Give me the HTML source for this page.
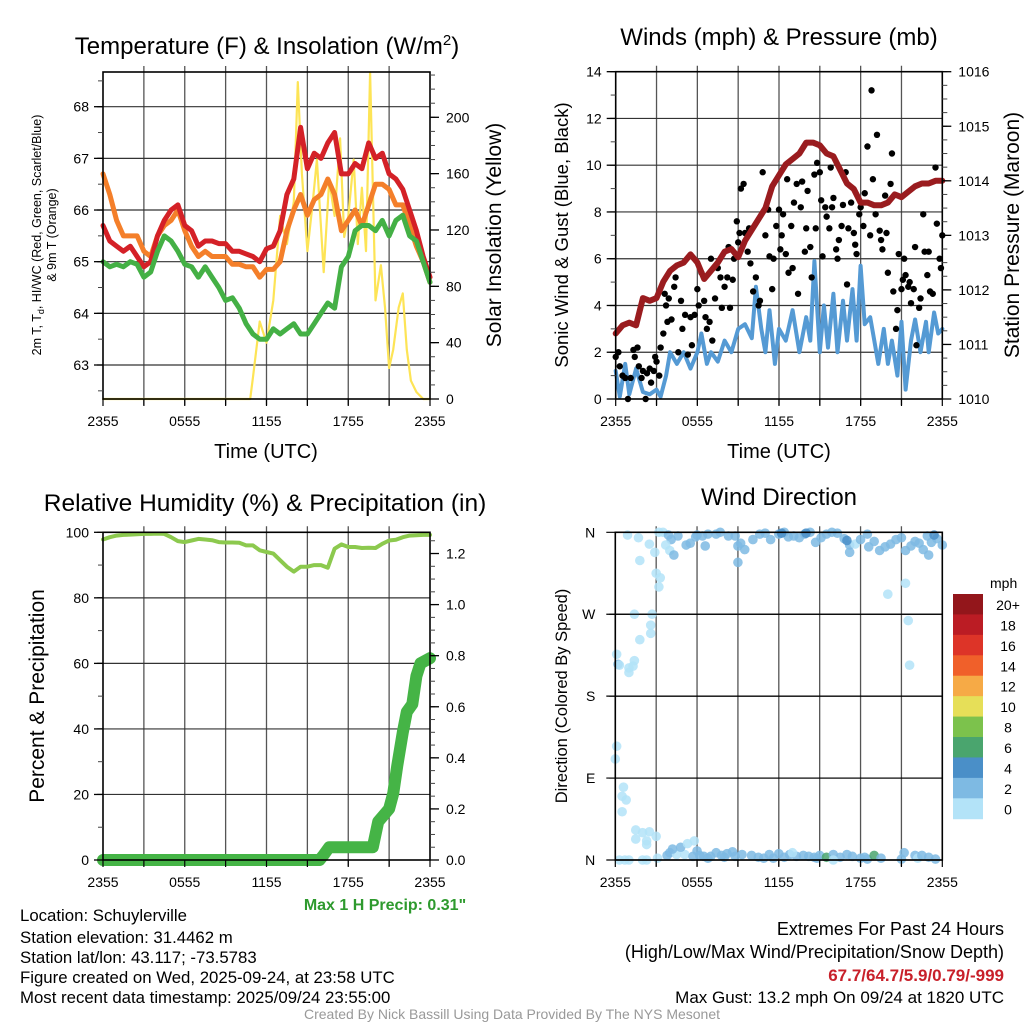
<!DOCTYPE html>
<html><head><meta charset="utf-8"><style>
html,body{margin:0;padding:0;background:#fff;}
svg{display:block;font-family:"Liberation Sans",sans-serif;}
</style></head><body>
<svg id="c" width="1024" height="1024" viewBox="0 0 1024 1024" xmlns="http://www.w3.org/2000/svg">
<text x="267" y="54" font-size="24" text-anchor="middle">Temperature (F) &amp; Insolation (W/m<tspan dy="-9" font-size="15">2</tspan><tspan dy="9">)</tspan></text>
<text x="779" y="45" font-size="24" text-anchor="middle">Winds (mph) &amp; Pressure (mb)</text>
<text x="265" y="511" font-size="24.5" text-anchor="middle">Relative Humidity (%) &amp; Precipitation (in)</text>
<text x="779" y="505" font-size="24" text-anchor="middle">Wind Direction</text>

<text x="266" y="458" font-size="20" text-anchor="middle">Time (UTC)</text>
<text x="779" y="458" font-size="20" text-anchor="middle">Time (UTC)</text>

<text transform="translate(41,235) rotate(-90)" font-size="12.5" text-anchor="middle">2m T, T<tspan font-size="9" dy="3">d</tspan><tspan dy="-3">, HI/WC (Red, Green, Scarlet/Blue)</tspan></text>
<text transform="translate(56,235) rotate(-90)" font-size="12.5" text-anchor="middle">&amp; 9m T (Orange)</text>
<text transform="translate(501,235) rotate(-90)" font-size="21" text-anchor="middle">Solar Insolation (Yellow)</text>
<text transform="translate(568,235) rotate(-90)" font-size="18.5" text-anchor="middle">Sonic Wind &amp; Gust (Blue, Black)</text>
<text transform="translate(1019,235) rotate(-90)" font-size="21" text-anchor="middle">Station Pressure (Maroon)</text>
<text transform="translate(44,696) rotate(-90)" font-size="21" text-anchor="middle">Percent &amp; Precipitation</text>
<text transform="translate(567,696) rotate(-90)" font-size="16.5" text-anchor="middle">Direction (Colored By Speed)</text>

<text x="385" y="910" font-size="16" font-weight="bold" fill="#2e9a2e" text-anchor="middle">Max 1 H Precip: 0.31"</text>
<g font-size="16.8">
<text x="20" y="921">Location: Schuylerville</text>
<text x="20" y="943">Station elevation: 31.4462 m</text>
<text x="20" y="963">Station lat/lon: 43.117; -73.5783</text>
<text x="20" y="983">Figure created on Wed, 2025-09-24, at 23:58 UTC</text>
<text x="20" y="1003">Most recent data timestamp: 2025/09/24 23:55:00</text>
</g>
<g font-size="17" text-anchor="end">
<text x="1004" y="935" font-size="18">Extremes For Past 24 Hours</text>
<text x="1004" y="958" font-size="18">(High/Low/Max Wind/Precipitation/Snow Depth)</text>
<text x="1004" y="981" fill="#c8202a" font-weight="bold">67.7/64.7/5.9/0.79/-999</text>
<text x="1004" y="1003">Max Gust: 13.2 mph On 09/24 at 1820 UTC</text>
</g>
<text x="512" y="1019" font-size="14" fill="#999" text-anchor="middle">Created By Nick Bassill Using Data Provided By The NYS Mesonet</text>
</svg>
<script>
const timeTickLabels = ["2355","0555","1155","1755","2355"];
const timeTickHours = [0,6,12,18,24];

const hrs = [0,0.5,1,1.5,2,2.5,3,3.5,4,4.5,5,5.5,6,6.5,7,7.5,8,8.5,9,9.5,10,10.5,11,11.5,12,12.5,13,13.5,14,14.5,15,15.5,16,16.5,17,17.5,18,18.5,19,19.5,20,20.5,21,21.5,22,22.5,23,23.5,24];
const tempRed = [65.7,65.4,65.3,65.2,65.3,65.1,64.9,65.0,65.5,65.8,66.0,66.1,65.7,65.6,65.3,65.4,65.4,65.35,65.35,65.2,65.2,65.15,65.1,65.0,65.25,65.3,65.6,66.3,66.6,67.6,66.8,67.1,67.0,67.3,67.5,66.7,66.7,66.9,66.8,67.3,67.0,67.1,66.7,66.6,66.4,66.0,65.6,65.1,64.7];
const temp9m = [66.7,66.3,65.8,65.5,65.5,65.5,65.2,65.1,65.5,65.7,65.8,66.0,65.6,65.3,65.1,65.2,65.1,65.1,65.1,64.95,64.95,64.9,64.9,64.7,64.85,64.85,65.0,65.6,66.0,66.3,65.9,66.2,66.3,66.6,66.3,65.6,65.8,66.0,65.7,66.1,66.5,66.5,66.4,66.1,66.1,65.7,65.3,65.0,64.6];
const dewGreen = [65.0,64.9,64.95,64.9,65.0,64.95,64.7,64.8,65.2,65.5,65.4,65.2,64.95,64.9,64.7,64.9,64.7,64.5,64.25,64.3,64.1,63.8,63.6,63.5,63.5,63.7,63.6,63.7,63.8,63.6,63.6,63.8,64.0,64.2,64.1,64.9,65.1,65.6,65.7,65.7,65.6,65.8,65.5,65.8,65.9,65.5,65.4,65.0,64.6];
const solarHours = [0,10.8,11,11.5,12,12.5,13,13.5,14,14.3,14.6,15,15.4,15.7,16.2,16.6,17,17.4,17.7,18,18.4,18.7,19,19.3,19.6,20,20.4,20.7,21,21.3,21.7,22,22.3,22.6,23,23.5,24];
const solarVals = [0,0,15,55,40,70,130,110,140,225,160,105,140,170,90,155,130,185,115,130,170,110,150,105,232,70,95,65,22,35,65,75,35,13,5,0,0];

const pressure = [1011.2,1011.35,1011.4,1011.35,1011.85,1011.8,1011.85,1012.15,1012.35,1012.45,1012.5,1012.65,1012.5,1012.2,1012.35,1012.5,1012.7,1012.75,1012.6,1012.9,1013.1,1013.3,1013.5,1013.9,1014.1,1014.3,1014.4,1014.5,1014.7,1014.7,1014.65,1014.5,1014.45,1014.2,1013.95,1013.85,1013.6,1013.6,1013.55,1013.55,1013.6,1013.75,1013.7,1013.8,1013.9,1013.95,1013.95,1014.0,1014.0];
const windHours = [0,0.3,0.7,1,1.5,2,2.5,3,3.3,3.7,4,4.5,5,5.5,6,6.3,6.7,7,7.5,8,8.5,9,9.5,10,10.3,10.7,11,11.3,11.7,12,12.5,13,13.5,14,14.3,14.6,15,15.3,15.6,16,16.3,16.7,17,17.4,17.7,18,18.3,18.7,19,19.3,19.7,20,20.3,20.7,21,21.3,21.7,22,22.4,22.8,23,23.4,23.7,24];
const windSpeed = [1.2,0.1,1.5,0.2,1.3,0.3,0.2,0.4,0.1,1.0,2.0,1.5,2.0,1.3,2.0,2.8,1.5,2.0,1.6,2.5,2.0,3.0,3.2,2.6,4.8,3.0,2.0,3.8,1.5,3.0,2.5,3.8,2.0,3.5,2.5,5.9,2.0,4.0,2.2,4.5,2.0,4.2,2.5,4.7,2.5,5.7,3.2,3.5,2.5,1.5,3.0,1.5,2.5,1.0,3.3,0.4,2.5,3.4,2.0,3.3,2.0,3.7,2.8,3.0];
const gustHours = [0,0.2,0.3,0.5,0.7,0.9,1.1,1.3,1.4,1.6,1.7,1.9,2.0,2.2,2.3,2.5,2.6,2.8,2.9,3.0,3.2,3.3,3.5,3.6,3.7,3.8,3.9,4.1,4.3,4.4,4.6,4.8,4.9,5.1,5.3,5.5,5.6,5.8,6.0,6.1,6.3,6.5,6.6,6.7,6.9,7.0,7.1,7.3,7.5,7.7,7.8,8.0,8.2,8.3,8.4,8.6,8.7,8.9,9.0,9.1,9.2,9.4,9.5,9.7,9.8,9.9,10.1,10.3,10.5,10.6,10.8,11.0,11.2,11.3,11.5,11.6,11.8,12.0,12.1,12.2,12.3,12.5,12.6,12.7,12.9,13.0,13.1,13.3,13.4,13.6,13.7,13.9,14.0,14.1,14.3,14.4,14.6,14.7,14.8,15.0,15.1,15.2,15.4,15.5,15.7,15.8,15.9,16.0,16.2,16.3,16.4,16.6,16.7,16.9,17.0,17.1,17.3,17.5,17.6,17.7,17.9,18.0,18.2,18.3,18.5,18.7,18.8,18.9,19.1,19.2,19.4,19.5,19.6,19.8,19.9,20.0,20.2,20.3,20.4,20.6,20.7,20.8,21.0,21.1,21.2,21.3,21.5,21.6,21.7,21.9,22.0,22.1,22.3,22.4,22.6,22.7,22.9,23.0,23.1,23.3,23.5,23.6,23.8,23.9,24.0];
const gustSpeed = [1.8,2.0,1.4,1.0,0.9,0.0,0.9,2.1,1.8,2.2,1.4,0.9,1.2,0.0,1.1,1.3,0.7,1.2,1.8,1.6,1.0,2.2,2.8,4.5,4.0,3.3,4.3,3.4,4.8,5.2,2.0,4.2,3.0,3.6,1.9,3.5,2.3,3.6,4.7,4.0,5.4,4.2,3.5,3.0,3.3,6.0,2.5,4.3,5.6,5.2,3.9,4.8,5.2,6.5,3.9,5.1,6.0,7.6,6.7,7.1,9.0,9.2,7.1,6.3,7.3,5.8,4.6,5.2,4.0,4.2,9.7,7.0,8.1,6.1,4.7,6.0,7.4,8.1,6.4,7.0,7.9,6.2,9.4,5.4,7.4,5.6,8.4,9.2,4.5,8.2,9.3,6.3,7.3,8.9,6.5,5.2,9.6,7.3,10.1,9.7,8.5,6.1,8.2,7.8,7.3,9.9,8.2,8.6,6.4,6.0,6.8,7.4,8.3,9.7,4.9,7.3,8.4,7.1,6.6,6.2,7.9,8.2,7.4,8.8,10.8,7.0,13.2,9.4,7.9,11.3,7.2,6.8,6.4,8.7,7.1,5.4,9.2,10.5,4.6,3.0,3.8,6.2,4.7,5.1,6.0,5.3,4.8,5.0,4.1,4.7,6.5,2.3,3.9,4.3,7.9,6.3,5.3,6.3,4.6,4.5,9.9,7.5,6.0,5.6,7.0];

const rhValues = [97.8,98.5,99,99.2,99.3,99.4,99.5,99.5,99.6,99.5,98.5,97.3,97.0,97.5,98.0,97.8,97.6,97.0,96.9,96.9,96.8,96.0,96.0,94.5,94.0,93.5,91.5,89.5,88.0,89.5,89.5,90,90,89.2,95.0,96.3,95.5,95.5,95.2,95.3,95.2,96.5,97.5,97.7,98.5,99,99.1,99.2,99.2];
const precipHours = [0,15.9,16.2,16.6,19.8,20.2,21.0,21.3,21.6,22.0,22.3,22.7,23.0,23.3,24];
const precipTotals = [0,0,0.02,0.05,0.05,0.15,0.2,0.26,0.37,0.5,0.58,0.61,0.72,0.77,0.79];

const dirHours = [0.9,1.7,1.8,2.5,2.9,3.2,3.5,3.9,4.1,3.7,4.0,4.3,4.6,5.2,5.5,5.9,6.0,6.4,6.6,6.8,7.4,7.7,8.3,8.8,9.0,9.2,10.1,10.6,11.0,11.4,12.0,12.4,12.7,13.1,13.5,13.9,14.3,14.7,15.1,15.5,15.9,16.3,16.8,17.2,17.6,18.0,18.5,18.6,19.0,19.4,19.8,20.2,20.6,21.0,21.3,21.7,22.0,22.3,22.6,22.9,23.2,23.6,24.0,23.4,17.2,17.0,14.0,12.2,9.0,9.5,23.0,20.0,21.3,3.0,3.3,3.2,1.4,2.7,2.6,2.6,1.8,0.1,0.2,0.3,1.3,1.4,1.0,1.0,21.5,21.6,0.1,0.0,0.6,0.5,0.8,0.5,1.5,1.5,2.3,2.3,2.5,3.0,2.0,0.3,0.7,1.0,2.0,2.3,3.1,3.8,4.0,4.5,5.1,5.7,6.0,6.2,6.5,6.8,7.0,7.4,7.8,8.2,8.8,9.3,10.0,10.5,10.9,11.3,11.6,12.0,12.4,12.8,13.3,13.8,14.2,14.6,14.8,15.0,15.5,16.0,16.5,17.0,17.4,18.0,18.3,18.5,19.0,19.5,21.0,21.2,22.0,22.2,22.5,23.0,23.5,8.6,4.2,4.8,5.3,5.8,13.0,16.0,8.0];
const dirDegrees = [357,354,329,347,338,360,360,357,352,346,340,335,356,346,348,355,357,356,345,358,358,360,356,356,345,348,352,358,359,352,358,360,355,356,354,358,360,349,354,358,360,359,353,346,347,352,358,344,350,340,344,347,352,354,340,345,350,348,341,356,349,353,346,357,338,351,359,359,327,341,335,292,304,315,310,300,270,270,258,249,242,226,215,214,213,219,211,206,263,214,125,111,80,70,66,53,33,23,21,17,31,26,30,0,0,0,0,0,2,5,8,6,6,4,10,5,4,2,4,8,5,7,4,6,5,3,2,6,2,7,3,6,4,5,4,3,2,5,3,6,3,6,4,2,3,1,5,2,1,8,5,2,5,3,1,9,12,14,18,21,8,0,3];
const dirSpeeds = [1,1,1,1,1,1,1,2,2,1,1,2,2,2,2,2,2,2,2,3,2,2,2,2,2,2,2,2,2,2,2,2,3,3,3,3,3,3,3,3,3,2,2,2,1,2,2,2,2,2,2,2,2,2,2,3,2,3,3,2,3,2,2,4,3,4,4,4,3,2,2,1,1,1,1,1,1,1,1,1,1,1,2,1,1,1,1,1,1,1,1,1,1,1,1,1,1,1,1,1,1,1,1,1,1,1,1,1,1,2,2,1,1,2,2,2,2,3,2,2,2,3,2,3,2,3,2,3,3,2,2,3,2,2,3,2,3,2,7,3,2,3,2,3,2,3,7,3,2,2,2,1,2,3,2,2,2,3,1,1,1,1,2,3,2];
const speedBinLabels = ["0","2","4","6","8","10","12","14","16","18","20+"];
const speedBinColors = ["#b3e3f8","#7ebae3","#4a8fc8","#4aa56e","#7cc24c","#e6df58","#f6aa46","#f0602a","#dd3428","#bb1c24","#93161b"];

const NS='http://www.w3.org/2000/svg';
const svg=document.getElementById('c');
function mk(tag,parent){const e=document.createElementNS(NS,tag);(parent||svg).appendChild(e);return e;}
function setA(e,o){for(const k in o)e.setAttribute(k,o[k]);}

function P(x0,x1,y0,y1){return {x0,x1,y0,y1,x:h=>x0+(h/24)*(x1-x0)};}
const p1=P(103,430,72,399), p2=P(615.7,942.3,71.7,399), p3=P(103,430,532.3,860), p4=P(615.3,942.3,532.3,860);
const tempY=v=>365-(v-63)*51.66, solarY=s=>399-s*1.4085;
const windY=w=>399-w*23.38, presY=p=>399-(p-1010)*54.55;
const rhY=r=>860-r*3.277, precipY=p=>860-p*255.4;
const dirY=d=>860-d*0.9103;

function grid(p,hy,name){
  const g=mk('g');
  
  
  for(let h=3;h<24;h+=3){const l=mk('line',g);setA(l,{x1:p.x(h),x2:p.x(h),y1:p.y0-6,y2:p.y1+6,stroke:'#555','stroke-width':1.3});
    
    }
  hy.forEach(y=>{const l=mk('line',g);setA(l,{x1:p.x0-6,x2:p.x1,y1:y,y2:y,stroke:'#333','stroke-width':1.2});
    
    });
}
function frame(p,name){
  const r=mk('rect');setA(r,{x:p.x0,y:p.y0,width:p.x1-p.x0,height:p.y1-p.y0,fill:'none',stroke:'#000','stroke-width':1.6});
  
  
  for(let i=0;i<timeTickHours.length;i++){
    const t=mk('text');setA(t,{x:p.x(timeTickHours[i]),y:p.y1+27,'font-size':14,'text-anchor':'middle'});t.textContent=timeTickLabels[i];
    
    
  }
  for(let h=0;h<=24;h+=3){const l=mk('line');setA(l,{x1:p.x(h),x2:p.x(h),y1:p.y1,y2:p.y1+7,stroke:'#000','stroke-width':1.2});
    
    }
}
function yTicks(p,vals,fy,side,labelFn,name,minor){
  const xx= side==='l'?p.x0:p.x1;
  minor.forEach(v=>{const l=mk('line');const y=fy(v);setA(l,{x1:xx,x2:side==='l'?xx-5:xx+5,y1:y,y2:y,stroke:'#444','stroke-width':1});
    
    });
  vals.forEach(v=>{const y=fy(v);
    const l=mk('line');setA(l,{x1:xx,x2:side==='l'?xx-9:xx+9,y1:y,y2:y,stroke:'#000','stroke-width':1.3});
    
    
    const t=mk('text');setA(t,{x:side==='l'?xx-14:xx+16,y:y+5,'font-size':14,'text-anchor':side==='l'?'end':'start'});t.textContent=labelFn(v);
    
    });
}
function line(p,xs,ys,fy,color,w,name){
  const pl=mk('polyline');
  setA(pl,{points:xs.map((h,i)=>p.x(h).toFixed(1)+','+fy(ys[i]).toFixed(1)).join(' '),fill:'none',stroke:color,'stroke-width':w,'stroke-linejoin':'round','stroke-linecap':'round'});
  
  
}
function range(a,b,s){const r=[];for(let v=a;v<=b+1e-9;v+=s)r.push(+v.toFixed(3));return r;}

// Panel 1
grid(p1,[63,64,65,66,67,68].map(tempY),'temp');
line(p1,solarHours,solarVals,solarY,'#fde456',2.2,'solar-insolation-line');
line(p1,hrs,temp9m,tempY,'#f47f2a',5,'temp-9m-line');
line(p1,hrs,tempRed,tempY,'#d42127',5,'temp-2m-line');
line(p1,hrs,dewGreen,tempY,'#44b045',5,'dewpoint-line');
frame(p1,'temp');
yTicks(p1,[63,64,65,66,67,68],tempY,'l',v=>v,'temp-y',range(62.5,68.5,0.5));
yTicks(p1,[0,40,80,120,160,200],solarY,'r',v=>v,'solar-y',range(0,230,10));

// Panel 2
grid(p2,[2,4,6,8,10,12,14].map(windY),'wind');
line(p2,windHours,windSpeed,windY,'#559ad4',4,'sonic-wind-line');
gustHours.forEach((h,i)=>{const c=mk('circle');setA(c,{cx:p2.x(h),cy:windY(gustSpeed[i]),r:3.2,fill:'#000'});
  
  });
line(p2,hrs,pressure,presY,'#9a1c1f',6,'station-pressure-line');
frame(p2,'wind');
yTicks(p2,[0,2,4,6,8,10,12,14],windY,'l',v=>v,'wind-y',range(0,14,1));
yTicks(p2,[1010,1011,1012,1013,1014,1015,1016],presY,'r',v=>v,'pressure-y',range(1010,1016,0.25));

// Panel 3
grid(p3,[20,40,60,80,100].map(rhY),'rh');
line(p3,hrs,rhValues,rhY,'#8cc94e',4,'relative-humidity-line');
line(p3,precipHours,precipTotals,precipY,'#45b446',12,'precipitation-line');
frame(p3,'rh');
yTicks(p3,[0,20,40,60,80,100],rhY,'l',v=>v,'rh-y',range(0,100,10));
yTicks(p3,[0,0.2,0.4,0.6,0.8,1.0,1.2],precipY,'r',v=>v.toFixed(1),'precip-y',range(0,1.25,0.05));

// Panel 4
grid(p4,[90,180,270].map(dirY),'dir');
dirHours.forEach((h,i)=>{const c=mk('circle');
  const bin=Math.min(10,Math.floor(dirSpeeds[i]/2));
  setA(c,{cx:p4.x(h),cy:dirY(dirDegrees[i]),r:4.8,fill:speedBinColors[bin],'fill-opacity':0.85});
  
  });
frame(p4,'dir');
['N','E','S','W','N'].forEach((lab,i)=>{const y=dirY(i*90);
  const l=mk('line');setA(l,{x1:p4.x0-9,x2:p4.x1,y1:y,y2:y,stroke:'#000','stroke-width':1.2});
  
  
  const t=mk('text');setA(t,{x:p4.x0-20,y:y+5,'font-size':14,'text-anchor':'end'});t.textContent=lab;
  
  });
// colorbar
const cbTop=594,cbH=20.43;
const cbu=mk('text');setA(cbu,{x:990,y:588,'font-size':14});cbu.textContent='mph';


for(let i=0;i<11;i++){const k=10-i;const y=cbTop+i*cbH;
  const r=mk('rect');setA(r,{x:953,y:y,width:30,height:cbH+0.5,fill:speedBinColors[k]});
  
  
  const t=mk('text');setA(t,{x:1008,y:y+16,'font-size':14,'text-anchor':'middle'});t.textContent=speedBinLabels[k];
  
  }
</script>
</body></html>
